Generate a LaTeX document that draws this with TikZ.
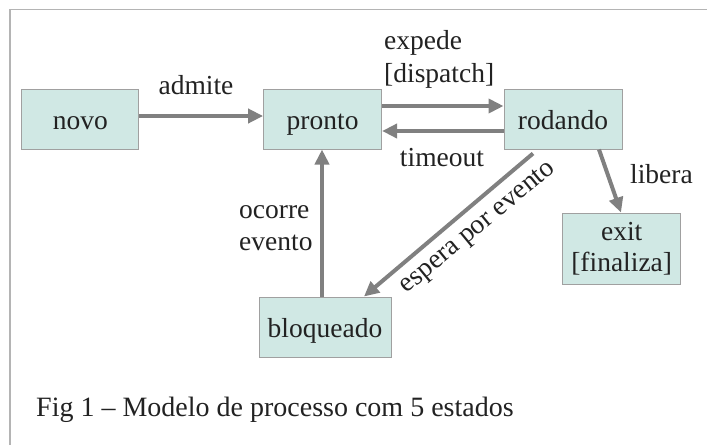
\documentclass[tikz,border=0pt]{standalone}
\usepackage{fontspec}
\setmainfont{Liberation Serif}
\usetikzlibrary{arrows.meta}
\definecolor{boxfill}{HTML}{D0E8E4}
\definecolor{boxline}{HTML}{A0A0A0}
\definecolor{arrowgray}{HTML}{808080}
\definecolor{framegray}{HTML}{B4B4B4}
\definecolor{ink}{HTML}{222222}
\tikzset{
  statebox/.style={draw=boxline, line width=1pt, fill=boxfill, inner sep=0pt,
    text=ink, font=\fontsize{27.5}{31}\selectfont},
  state/.style={statebox, text height=20pt, text depth=0pt},
  trans/.style={draw=arrowgray, line width=4pt,
    -{Triangle[length=15pt,width=14pt]}},
  lbl/.style={text=ink, font=\fontsize{27.5}{31}\selectfont, inner sep=0pt}
}
\begin{document}
\begin{tikzpicture}[x=1pt,y=-1pt]
\useasboundingbox (0,0) rectangle (707,445);
\fill[white] (0,0) rectangle (707,445);
% outer frame (top and left edges visible)
\draw[framegray, line width=1.5pt] (10,445) -- (10,9.5) -- (707,9.5);

% states
\node[state, minimum width=117pt, minimum height=60pt] (novo) at (80.3,119) {novo};
\node[state, minimum width=118pt, minimum height=60pt] (pronto) at (322.6,119) {pronto};
\node[state, minimum width=118pt, minimum height=60pt] (rodando) at (563,119) {rodando};
\node[state, minimum width=132pt, minimum height=60pt] (bloqueado) at (325,327) {bloqueado};
\node[statebox, minimum width=118pt, minimum height=71pt, align=center]
  (exit) at (621.7,248.5) {exit\\{}[finaliza]};

% transitions
\draw[trans] ([yshift=3pt]novo.east) -- ([yshift=3pt]pronto.west);
\draw[trans] ([yshift=13pt]pronto.east) -- ([yshift=13pt]rodando.west);
\draw[trans] ([yshift=-12pt]rodando.west) -- ([yshift=-12pt]pronto.east);
\draw[trans] ([xshift=-3pt]bloqueado.north) -- ([xshift=-0.6pt]pronto.south);
\draw[trans] ([xshift=-30pt,yshift=-4pt]rodando.south) -- ([xshift=39pt]bloqueado.north);
\draw[trans] ([xshift=36pt]rodando.south) -- ([xshift=-0.7pt]exit.north);

% transition labels
\node[lbl, anchor=base] (l-admite) at (196,94) {admite};
\node[lbl, anchor=base west] (l-expede) at (384,49) {expede};
\node[lbl, anchor=base west] (l-dispatch) at (384,82) {[dispatch]};
\node[lbl, anchor=base] (l-timeout) at (442,166) {timeout};
\node[lbl, anchor=base west] (l-libera) at (630,183) {libera};
\node[lbl, anchor=base west] (l-ocorre) at (239,218) {ocorre};
\node[lbl, anchor=base west] (l-evento) at (239,250) {evento};
\node[lbl, rotate=39.5] (l-espera) at (478.5,228.5) {espera por evento};

% caption
\node[lbl, anchor=base west, font=\fontsize{28}{32}\selectfont] (caption) at (36,416)
  {Fig 1 – Modelo de processo com 5 estados};
\end{tikzpicture}
\end{document}
